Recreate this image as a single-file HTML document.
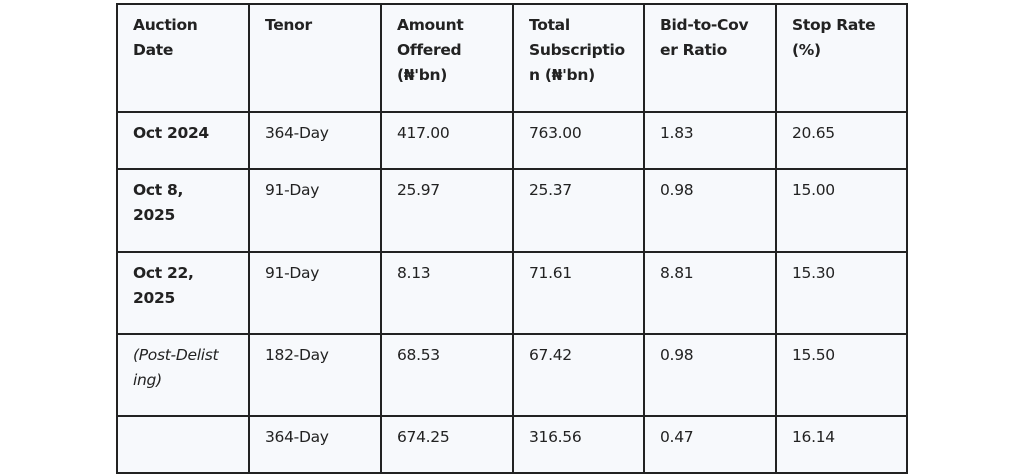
<!DOCTYPE html>
<html><head><meta charset="utf-8"><style>
body{margin:0;background:#fff;width:1024px;height:474px;overflow:hidden}
table{position:absolute;left:116px;top:3px;border-collapse:collapse;background:#f7f9fc;
font-family:"DejaVu Sans","Liberation Sans",sans-serif;font-size:15.5px;color:#222;letter-spacing:-0.3px}
td{border:2px solid #222;vertical-align:top;padding:8px 14px 0 15px;line-height:25px;box-sizing:border-box}
th{border:2px solid #222;vertical-align:top;text-align:left;padding:8px 14px 0 15px;line-height:25px;font-weight:bold;box-sizing:border-box}
td.b{font-weight:bold}
td.i{font-style:italic}
</style></head><body>
<table>
<colgroup><col style="width:132px"><col style="width:132px"><col style="width:132px"><col style="width:131px"><col style="width:132px"><col style="width:131px"></colgroup>
<tr style="height:108px"><th>Auction<br>Date</th><th>Tenor</th><th>Amount<br>Offered<br>(₦'bn)</th><th>Total<br>Subscriptio<br>n (₦'bn)</th><th>Bid-to-Cov<br>er Ratio</th><th>Stop Rate<br>(%)</th></tr>
<tr style="height:57px"><td class="b">Oct 2024</td><td>364-Day</td><td>417.00</td><td>763.00</td><td>1.83</td><td>20.65</td></tr>
<tr style="height:83px"><td class="b">Oct 8,<br>2025</td><td>91-Day</td><td>25.97</td><td>25.37</td><td>0.98</td><td>15.00</td></tr>
<tr style="height:82px"><td class="b">Oct 22,<br>2025</td><td>91-Day</td><td>8.13</td><td>71.61</td><td>8.81</td><td>15.30</td></tr>
<tr style="height:82px"><td class="i">(Post-Delist<br>ing)</td><td>182-Day</td><td>68.53</td><td>67.42</td><td>0.98</td><td>15.50</td></tr>
<tr style="height:57px"><td></td><td>364-Day</td><td>674.25</td><td>316.56</td><td>0.47</td><td>16.14</td></tr>
</table>
</body></html>
